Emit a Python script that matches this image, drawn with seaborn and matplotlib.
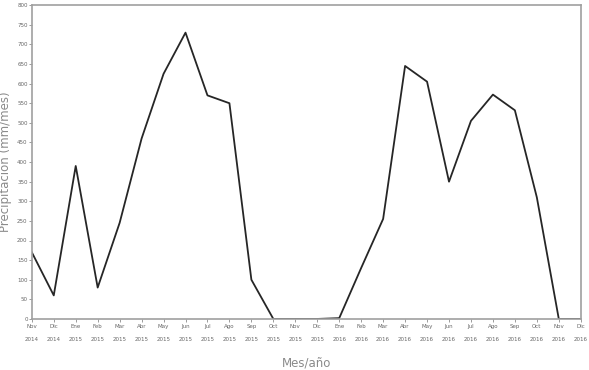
import matplotlib
matplotlib.use('Agg')
import matplotlib.pyplot as plt
import numpy as np
import pandas as pd
import seaborn as sns

months = ['Nov', 'Dic', 'Ene', 'Feb', 'Mar', 'Abr', 'May', 'Jun', 'Jul', 'Ago', 'Sep', 'Oct',
          'Nov', 'Dic', 'Ene', 'Feb', 'Mar', 'Abr', 'May', 'Jun', 'Jul', 'Ago', 'Sep', 'Oct',
          'Nov', 'Dic']
years = ['2014', '2014'] + ['2015'] * 12 + ['2016'] * 12
precip = [170, 60, 390, 80, 245, 460, 625, 730, 570, 550, 100, 0,
          0, 0, 2, 130, 255, 645, 605, 350, 505, 572, 532, 310,
          0, 0]

df = pd.DataFrame({'idx': np.arange(len(precip)), 'precip': precip})

grey = '#8c8c8c'

fig = plt.figure(figsize=(5.89, 3.70), dpi=100)
ax = fig.add_axes([0.054, 0.138, 0.932, 0.848])
sns.lineplot(data=df, x='idx', y='precip', color='#262626', lw=1.3, ax=ax)

ax.set_xlim(0, len(precip) - 1)
ax.set_ylim(0, 800)
ax.set_yticks(np.arange(0, 801, 50))
ax.set_xticks(df['idx'])
ax.set_xticklabels([m + '\n\n' + y for m, y in zip(months, years)],
                   fontsize=4, color='#666666', linespacing=1.45)
ax.tick_params(axis='y', labelsize=4, labelcolor='#666666', length=2, width=0.6, color=grey, pad=1)
ax.tick_params(axis='x', length=2, width=0.6, color=grey, pad=1.5)
for s in ax.spines.values():
    s.set_color('#a0a0a0')
    s.set_linewidth(1.2)

ax.set_xlabel('Mes/año', fontsize=8.5, color='#8a8a8a', labelpad=10)
ax.set_ylabel('Precipitación (mm/mes)', fontsize=8.5, color='#8a8a8a', labelpad=4)

fig.savefig('out.png', dpi=100)
